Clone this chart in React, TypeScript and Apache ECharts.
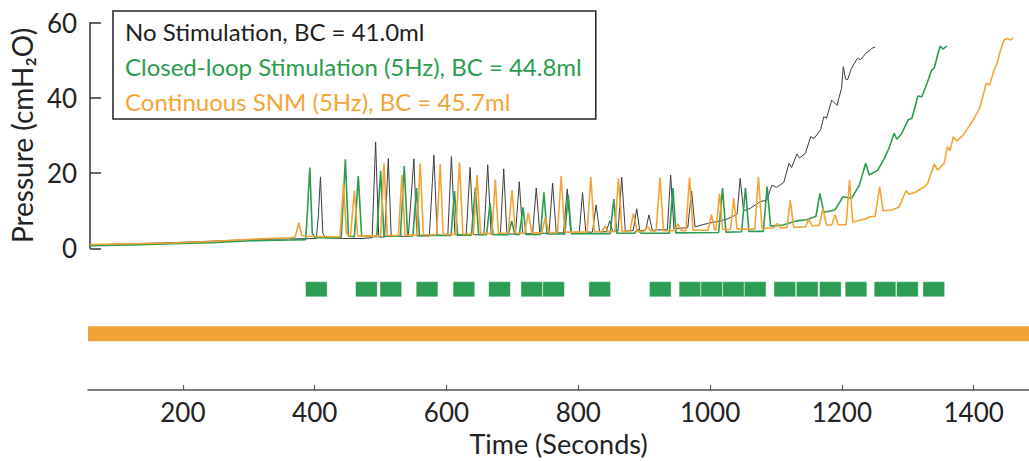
import React, { useEffect, useRef } from "react";
import * as echarts from "echarts";

// ---------- data ----------
const X_MIN = 56;
const X_MAX = 1484;
const xTickValues = [200, 400, 600, 800, 1000, 1200, 1400];
const yTickInterval = 20;

const seriesNames = [
  "No Stimulation, BC = 41.0ml",
  "Closed-loop Stimulation (5Hz), BC = 44.8ml",
  "Continuous SNM (5Hz), BC = 45.7ml",
];

// [time (s), pressure (cmH2O)]
const noStimulation: number[][] = [
  [56, 0.9], [120, 1.2], [180, 1.5], [240, 1.9], [300, 2.3], [360, 2.5], [400, 2.6],
  [403, 8], [406.4, 19.0], [410, 4], [414, 2.8], [440, 2.6], [470, 2.6], [485, 2.8],
  [490.3, 28.3], [495, 3], [504, 3], [509.6, 23.9], [514, 3.2], [540, 3.2], [548.5, 23.8],
  [553, 3.3], [572, 3.3], [578.9, 24.8], [584, 3.5], [600, 3.4], [605.6, 24.4], [611, 3.6],
  [628, 3.5], [634, 21.5], [639, 3.6], [655, 3.6], [660.8, 22.2], [666, 3.7], [680, 3.7],
  [685.1, 21.1], [690, 3.8], [703, 3.8], [708.8, 17.7], [714, 3.9], [729, 3.9], [734.6, 16.0],
  [740, 4.0], [754, 4.0], [759.5, 17.3], [765, 4.1], [776, 4.1], [781.7, 15.8], [787, 4.2],
  [800, 4.2], [805, 14.8], [810, 4.3], [820, 4.3], [825.7, 11.5], [831, 4.4], [841, 4.4],
  [846.4, 7.3], [851, 4.5], [859, 4.6], [864.6, 18.9], [870, 4.6], [882, 4.7], [887.4, 10.5],
  [892, 4.7], [901, 4.8], [906, 8.9], [911, 4.8], [934, 5.0], [939, 19.5], [944, 5.2],
  [965, 5.5], [970.9, 15.2], [976, 5.7], [995, 6.6], [1015, 7.3], [1025, 7.8], [1035, 8.6],
  [1040, 9], [1044.7, 18.6], [1050, 10], [1060, 10.6], [1075, 12.4], [1085, 12.8],
  [1093, 16.8], [1100, 16.2], [1111, 17.5], [1119, 22.6], [1123, 21.5], [1131, 25.1],
  [1135, 24], [1144, 25.3], [1152, 29.7], [1157, 29.2], [1167, 31.5], [1172, 35],
  [1176, 34.6], [1184, 39.4], [1192, 38], [1199, 42.6], [1201.5, 48.3], [1205, 45],
  [1208, 44.8], [1214, 47.9], [1223, 50.5], [1228, 50.2], [1236, 51.9], [1240, 52.3],
  [1245, 53.2], [1250, 53.5],
];

const closedLoop: number[][] = [
  [56, 0.7], [120, 0.9], [180, 1.2], [240, 1.5], [300, 2.0], [360, 2.2], [384, 2.3],
  [386, 8], [390.2, 21.5], [394, 4], [398, 2.8], [420, 2.8], [438, 2.9], [444.3, 23.7],
  [449, 3.2], [458, 3.1], [464, 19.2], [469, 3.2], [492, 3.1], [497.9, 20.6], [503, 3.2],
  [528, 3.2], [533.8, 21.9], [539, 3.3], [547, 3.3], [552.5, 16], [557, 3.4], [605, 3.4],
  [610.2, 15.2], [615, 3.5], [636, 3.5], [642, 16.1], [647, 3.6], [659, 3.6], [664.3, 12],
  [669, 3.6], [692, 3.6], [697.3, 7.3], [702, 3.7], [709, 3.7], [714.4, 10.9], [719, 3.7],
  [741, 3.7], [746.3, 14.9], [751, 3.8], [778, 3.8], [783.2, 14.2], [788, 3.9], [847, 3.9],
  [852.5, 13.1], [857, 4.0], [884, 4.0], [889, 5], [894, 4.0], [937, 4.0], [942.5, 16],
  [947, 4.1], [1012, 4.2], [1017.9, 16], [1023, 4.3], [1047, 4.4], [1052.8, 16.1],
  [1058, 4.5], [1080, 4.5], [1085.7, 16.4], [1091, 5.9], [1110, 6.2], [1131, 7.3],
  [1146, 7.6], [1160, 8.5], [1166, 14.6], [1172, 9.6], [1189, 10.2], [1201, 13.7],
  [1214, 13.3], [1226, 16.8], [1235.6, 22.6], [1241, 19.5], [1254, 20.8], [1264, 23.9],
  [1271, 26.6], [1279, 30.6], [1283, 29], [1290, 30.4], [1300, 34.1], [1306, 34.6],
  [1315, 40.5], [1321, 40.3], [1329, 43.9], [1336, 47.4], [1340, 48], [1345, 51.4],
  [1349, 53.8], [1353, 53], [1359, 53.8],
];

const continuousSNM: number[][] = [
  [56, 1.0], [120, 1.2], [180, 1.4], [240, 1.8], [300, 2.4], [360, 2.8], [368, 3],
  [373.4, 6.8], [378, 3.4], [386, 3.2], [436, 3.0], [441.3, 17.3], [446, 4], [452, 3.2],
  [458, 15.3], [463, 3.3], [498, 3.3], [503, 22.6], [508, 3.4], [525, 3.4], [530.3, 19.5],
  [535, 3.5], [553, 3.5], [558.1, 22.6], [563, 3.6], [583, 3.6], [588.5, 22.4], [593, 3.7],
  [612, 3.7], [617.8, 22.9], [623, 3.8], [639, 3.8], [644.6, 19.5], [650, 3.9], [667, 3.9],
  [672.4, 18.3], [677, 4.0], [692, 4.0], [697.7, 15.5], [703, 4.0], [717, 4.0], [722.4, 9.5],
  [728, 4.1], [743, 4.1], [748.3, 8.2], [754, 4.2], [767, 4.2], [772.5, 19.2], [778, 4.3],
  [812, 4.3], [817.6, 19], [823, 4.4], [834, 4.4], [839.3, 5.9], [844, 4.4], [854, 4.4],
  [859.6, 18.6], [865, 4.5], [877, 4.5], [882.4, 9.3], [888, 4.5], [898, 4.5], [903.6, 5.9],
  [908, 4.6], [917, 4.6], [922.8, 18.9], [928, 4.7], [945, 4.7], [950, 6.5], [955, 4.7],
  [962, 4.7], [967.8, 18.9], [973, 4.8], [996, 4.8], [1001, 9], [1006, 4.9], [1008, 4.9],
  [1013.4, 14.6], [1018, 5.0], [1030, 5.0], [1035, 13.3], [1040, 5.1], [1067, 5.1],
  [1072.5, 19], [1078, 5.3], [1096, 5.4], [1101, 6.6], [1106, 5.5], [1116, 5.5],
  [1121, 12.8], [1126, 5.6], [1144, 5.7], [1149, 7.7], [1154, 6], [1165, 6.1],
  [1170.6, 10.6], [1176, 6.2], [1184, 6.2], [1189, 8.9], [1194, 6.2], [1206, 6.3],
  [1211, 18.2], [1216, 7], [1235, 7.8], [1242, 8.4], [1250, 8.5], [1257, 16.4], [1262, 10],
  [1275, 10.2], [1286, 10.9], [1297, 15.3], [1302, 14.4], [1312, 15], [1326, 16.5],
  [1330, 17.3], [1340, 22.4], [1345, 20.8], [1355, 22.6], [1360, 27], [1364, 26],
  [1369, 29.7], [1374, 28.5], [1384, 30.1], [1399, 34.1], [1409, 37.2], [1419, 43.9],
  [1424, 43.4], [1431, 47.4], [1436, 49.5], [1440, 52.3], [1446, 55.4], [1451, 55.8],
  [1456, 55.4], [1460, 56],
];

// closed-loop stimulation blocks: start times (s), each block lasting STIM_BLOCK_SEC
const closedLoopStimStarts = [
  386, 462, 499, 554, 610, 664, 713, 746, 816, 908, 953, 986, 1019, 1052,
  1097, 1131, 1166, 1205, 1249, 1283, 1323,
];
const STIM_BLOCK_SEC = 33;
// continuous stimulation: [start, end] (s)
const continuousStim = [[X_MIN, X_MAX]];

const BLACK = "#3c3c3c";
const GREEN = "#2a9c50";
const ORANGE = "#f2a536";
const FONT = "Lato";

export default function App() {
  const ref = useRef<HTMLDivElement>(null);

  useEffect(() => {
    if (!ref.current) return;
    const chart = echarts.init(ref.current, undefined, { renderer: "svg" });

    const greenBlocks = closedLoopStimStarts.map((s) => [s, s + STIM_BLOCK_SEC, 0]);
    const orangeBlocks = continuousStim.map((d) => [d[0], d[1], 1]);

    const makeRender = (fill: string, stroke: string) => (params: any, api: any) => {
      const p0 = api.coord([api.value(0), api.value(2)]);
      const p1 = api.coord([api.value(1), api.value(2)]);
      const h = api.size([0, 1])[1] * 0.34;
      return {
        type: "rect",
        shape: { x: p0[0], y: p0[1] - h / 2, width: p1[0] - p0[0], height: h },
        style: { fill, stroke, lineWidth: 1 },
      };
    };

    const option: any = {
      animation: false,
      backgroundColor: "#ffffff",
      textStyle: { fontFamily: FONT },
      grid: [
        { left: 88, top: 22.7, width: 941, height: 225.6 },
        { left: 88, top: 267, width: 941, height: 89 },
      ],
      legend: {
        orient: "vertical",
        left: 113,
        top: 11,
        padding: [8, 14, 6, 7],
        itemGap: 11,
        itemWidth: 0,
        itemHeight: 22,
        icon: "none",
        selectedMode: false,
        borderColor: "#222",
        borderWidth: 1.5,
        borderRadius: 0,
        data: [
          { name: seriesNames[0], textStyle: { color: "#1e1e1e" } },
          { name: seriesNames[1], textStyle: { color: GREEN } },
          { name: seriesNames[2], textStyle: { color: ORANGE } },
        ],
        textStyle: { fontFamily: FONT, fontSize: 24, lineHeight: 22 },
      },
      xAxis: [
        {
          type: "value",
          gridIndex: 0,
          min: X_MIN,
          max: X_MAX,
          show: false,
        },
        {
          type: "value",
          gridIndex: 1,
          min: X_MIN,
          max: X_MAX,
          position: "bottom",
          offset: 34,
          axisLine: { show: true, onZero: false, lineStyle: { color: "#555", width: 1.5 } },
          axisTick: {
            show: true,
            inside: true,
            length: 5,
            customValues: xTickValues,
            lineStyle: { color: "#555", width: 1.2 },
          },
          axisLabel: {
            customValues: xTickValues,
            formatter: (v: number) => String(v),
            fontSize: 26,
            color: "#222",
            margin: 9,
            fontFamily: FONT,
          },
          splitLine: { show: false },
          name: "Time (Seconds)",
          nameLocation: "middle",
          nameGap: 40,
          nameTextStyle: { fontSize: 27, color: "#222", fontFamily: FONT },
        },
      ],
      yAxis: [
        {
          type: "value",
          gridIndex: 0,
          min: 0,
          max: 60,
          interval: yTickInterval,
          axisLine: { show: true, lineStyle: { color: "#333", width: 1.5 } },
          axisTick: { show: true, inside: true, length: 11, lineStyle: { color: "#333", width: 1.5 } },
          axisLabel: { fontSize: 26, color: "#222", margin: 13, fontFamily: FONT },
          splitLine: { show: false },
          name: "Pressure (cmH₂O)",
          nameLocation: "middle",
          nameGap: 52,
          nameTextStyle: { fontSize: 28, color: "#222", fontFamily: FONT },
        },
        {
          type: "value",
          gridIndex: 1,
          min: -0.5,
          max: 1.5,
          inverse: true,
          show: false,
        },
      ],
      series: [
        {
          name: seriesNames[0],
          type: "line",
          xAxisIndex: 0,
          yAxisIndex: 0,
          data: noStimulation,
          symbol: "none",
          lineStyle: { color: BLACK, width: 1 },
          itemStyle: { color: BLACK },
        },
        {
          name: seriesNames[1],
          type: "line",
          xAxisIndex: 0,
          yAxisIndex: 0,
          data: closedLoop,
          symbol: "none",
          lineStyle: { color: GREEN, width: 1.6 },
          itemStyle: { color: GREEN },
        },
        {
          name: seriesNames[2],
          type: "line",
          xAxisIndex: 0,
          yAxisIndex: 0,
          data: continuousSNM,
          symbol: "none",
          lineStyle: { color: ORANGE, width: 1.6 },
          itemStyle: { color: ORANGE },
        },
        {
          name: "Closed-loop stimulation periods",
          type: "custom",
          xAxisIndex: 1,
          yAxisIndex: 1,
          data: greenBlocks,
          renderItem: makeRender("#2c9d52", "rgba(255,255,255,0.45)"),
          encode: { x: [0, 1], y: 2 },
        },
        {
          name: "Continuous stimulation period",
          type: "custom",
          xAxisIndex: 1,
          yAxisIndex: 1,
          data: orangeBlocks,
          renderItem: makeRender("#f0a437", "none"),
          encode: { x: [0, 1], y: 2 },
        },
      ],
    };

    chart.setOption(option);
    return () => chart.dispose();
  }, []);

  return (
    <div
      ref={ref}
      style={{ position: "fixed", left: 0, top: 0, width: 1029, height: 461 }}
    />
  );
}
